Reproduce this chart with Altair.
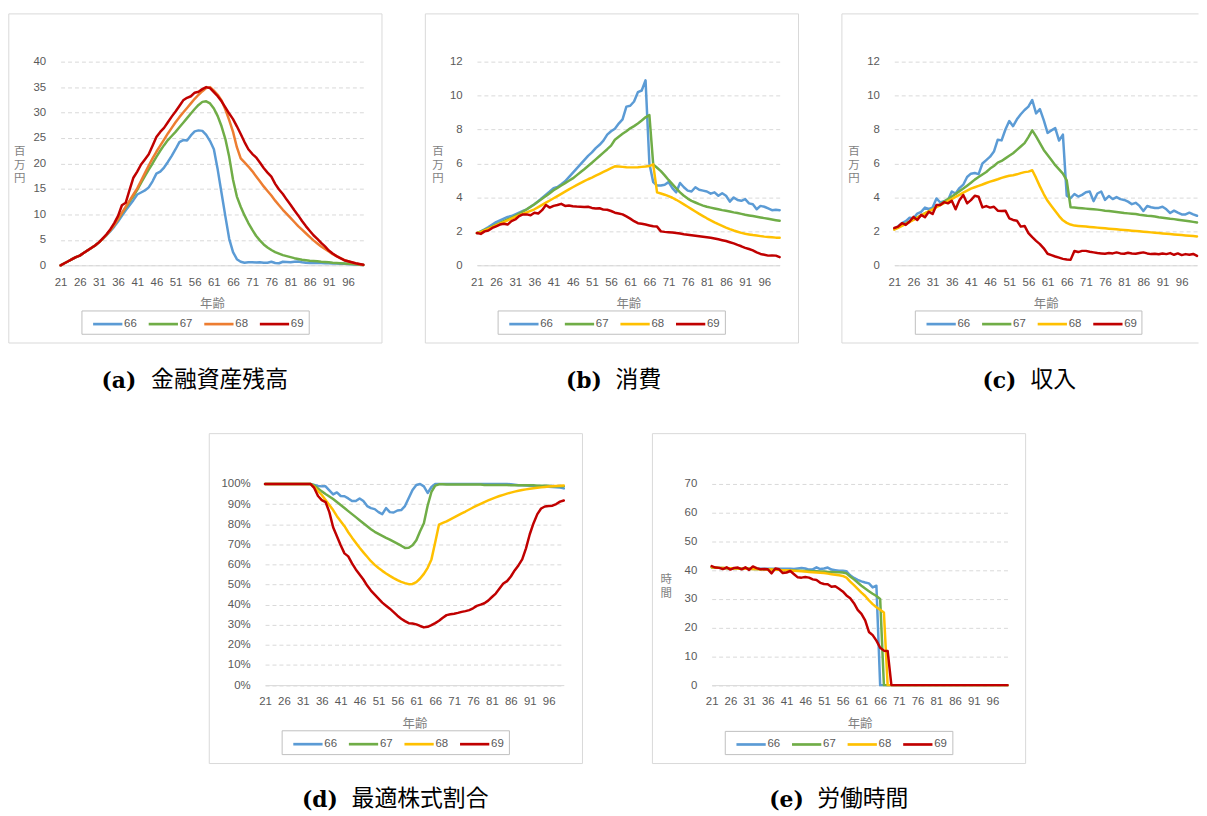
import altair as alt
import pandas as pd

AGE = list(range(21, 101))
SERIES = ["66", "67", "68", "69"]
X_TICKS = [21, 26, 31, 36, 41, 46, 51, 56, 61, 66, 71, 76, 81, 86, 91, 96]
Y_A = [0, 5, 10, 15, 20, 25, 30, 35, 40]
Y_BC = [0, 2, 4, 6, 8, 10, 12]
Y_D = [0, 10, 20, 30, 40, 50, 60, 70, 80, 90, 100]
Y_E = [0, 10, 20, 30, 40, 50, 60, 70]

# (a) financial assets (million yen)
A_66 = [0, 0.4, 0.8, 1.2, 1.6, 1.9, 2.4, 2.9, 3.4, 3.9,
        4.5, 5.2, 5.9, 6.7, 7.6, 8.6, 9.7, 10.8, 11.8, 12.8,
        13.9, 14.3, 14.7, 15.3, 16.5, 18.0, 18.4, 19.2, 20.3, 21.5,
        22.8, 24.2, 24.6, 24.5, 25.5, 26.3, 26.5, 26.4, 25.6, 24.4,
        22.8, 18.8, 14.2, 9.6, 5.2, 2.6, 1.2, 0.7, 0.5, 0.6,
        0.6, 0.55, 0.6, 0.5, 0.5, 0.7, 0.45, 0.4, 0.7, 0.65,
        0.6, 0.7, 0.75, 0.6, 0.5, 0.45, 0.5, 0.45, 0.45, 0.4,
        0.4, 0.35, 0.35, 0.3, 0.3, 0.25, 0.2, 0.15, 0.1, 0.05]
A_67 = [0, 0.4, 0.8, 1.2, 1.6, 1.9, 2.4, 2.9, 3.4, 3.9,
        4.5, 5.2, 6.0, 6.9, 7.9, 9.0, 10.2, 11.3, 12.5, 13.6,
        14.8, 16.2, 17.5, 18.8, 20.0, 21.3, 22.5, 23.6, 24.6, 25.4,
        26.2, 27.1, 28.0, 28.9, 29.8, 30.7, 31.5, 32.1, 32.2, 31.8,
        30.8, 29.3, 27.3, 24.8, 21.3, 16.8, 13.5, 11.5, 9.8, 8.3,
        7.0, 5.8, 4.9, 4.1, 3.5, 3.0, 2.6, 2.3, 2.0, 1.8,
        1.6, 1.4, 1.25, 1.1, 1.0, 0.9, 0.85, 0.8, 0.7, 0.65,
        0.6, 0.5, 0.45, 0.4, 0.35, 0.3, 0.25, 0.2, 0.1, 0.05]
A_68 = [0, 0.4, 0.8, 1.2, 1.6, 1.9, 2.4, 2.9, 3.4, 3.9,
        4.5, 5.2, 6.0, 6.9, 7.9, 9.1, 10.3, 11.5, 12.7, 13.9,
        15.1, 16.6, 18.1, 19.6, 21.0, 22.3, 23.5, 24.7, 25.9, 27.0,
        28.1, 29.1, 30.0, 30.9, 31.8, 32.7, 33.5, 34.2, 34.8, 35.0,
        34.3, 33.5, 32.4, 30.6, 28.5, 26.2, 23.2, 21.0, 20.2, 19.4,
        18.5, 17.5, 16.5, 15.5, 14.6, 13.7, 12.7, 11.8, 10.9, 10.1,
        9.3, 8.5, 7.7, 7.0, 6.3, 5.6, 4.9, 4.3, 3.7, 3.2,
        2.7, 2.2, 1.8, 1.4, 1.05, 0.8, 0.55, 0.35, 0.2, 0.05]
A_69 = [0, 0.4, 0.8, 1.2, 1.6, 1.9, 2.4, 2.9, 3.4, 3.9,
        4.5, 5.3, 6.1, 7.1, 8.3, 9.7, 11.8, 12.3, 14.8, 17.2,
        18.4, 19.8, 20.8, 21.8, 23.5, 25.2, 26.2, 27.0, 28.1, 29.2,
        30.2, 31.3, 32.4, 32.9, 33.2, 33.9, 34.1, 34.6, 35.0, 34.8,
        34.0, 33.2, 32.2, 31.0, 29.8, 28.7, 27.3, 25.8, 24.2, 22.8,
        21.9, 21.2, 20.2, 19.1, 18.2, 17.4, 16.0, 14.9, 14.0, 12.9,
        11.9, 10.8, 9.8, 8.7, 7.7, 6.8, 5.9, 5.2, 4.4, 3.7,
        2.9, 2.3, 1.8, 1.4, 1.0, 0.8, 0.6, 0.4, 0.25, 0.1]

# (b) consumption (million yen)
B_66 = [1.9, 2.0, 2.12, 2.25, 2.4, 2.55, 2.65, 2.75, 2.85, 2.9,
        3.0, 3.1, 3.2, 3.3, 3.45, 3.6, 3.78, 3.97, 4.16, 4.35,
        4.55, 4.62, 4.78, 4.95, 5.2, 5.45, 5.7, 5.95, 6.2, 6.45,
        6.65, 6.9, 7.1, 7.35, 7.7, 7.9, 8.05, 8.35, 8.6, 9.35,
        9.4, 9.65, 10.2, 10.3, 10.9, 6.0, 4.9, 4.7, 4.7, 4.75,
        4.9, 4.55, 4.3, 4.85, 4.6, 4.4, 4.35, 4.6, 4.45, 4.4,
        4.35, 4.22, 4.3, 4.1, 4.25, 4.1, 3.75, 4.0, 3.85, 3.8,
        3.9, 3.65, 3.6, 3.3, 3.5, 3.45, 3.35, 3.25, 3.27, 3.25]
B_67 = [1.9, 1.98, 2.08, 2.18, 2.28, 2.4, 2.5, 2.6, 2.7, 2.8,
        2.92, 3.04, 3.17, 3.3, 3.45, 3.6, 3.76, 3.92, 4.08, 4.25,
        4.42, 4.56, 4.7, 4.84, 4.98, 5.12, 5.3, 5.48, 5.66, 5.85,
        6.04, 6.24, 6.44, 6.64, 6.84, 7.05, 7.4, 7.58, 7.75, 7.9,
        8.07, 8.2, 8.35, 8.53, 8.72, 8.85, 5.95, 5.75, 5.55, 5.3,
        5.03, 4.78, 4.53, 4.3, 4.1, 3.93, 3.8, 3.7, 3.6, 3.52,
        3.45, 3.4, 3.35, 3.3, 3.25, 3.21, 3.17, 3.12, 3.08, 3.03,
        2.98, 2.94, 2.9, 2.86, 2.82, 2.78, 2.74, 2.7, 2.66, 2.62]
B_68 = [1.9, 1.95, 2.05, 2.15, 2.25, 2.35, 2.45, 2.55, 2.65, 2.75,
        2.85, 2.94, 3.03, 3.12, 3.21, 3.3, 3.43, 3.56, 3.69, 3.82,
        3.95, 4.08, 4.21, 4.34, 4.47, 4.6, 4.72, 4.84, 4.96, 5.07,
        5.17, 5.28, 5.39, 5.5, 5.61, 5.72, 5.83, 5.82, 5.8, 5.78,
        5.77, 5.77, 5.78, 5.8, 5.82, 5.85, 5.95, 4.3, 4.23, 4.16,
        4.08, 3.98, 3.86, 3.73, 3.59, 3.45, 3.31, 3.17, 3.03, 2.9,
        2.77, 2.65, 2.53, 2.42, 2.32, 2.22, 2.13, 2.05, 1.98, 1.91,
        1.86, 1.82, 1.78, 1.75, 1.72, 1.69, 1.67, 1.65, 1.63, 1.62]
B_69 = [1.9, 1.85, 2.0, 2.05, 2.2, 2.3, 2.4, 2.45, 2.4, 2.6,
        2.7, 2.9, 3.0, 3.0, 2.95, 3.1, 3.05, 3.25, 3.55, 3.4,
        3.5, 3.55, 3.62, 3.5, 3.52, 3.48, 3.46, 3.45, 3.43, 3.45,
        3.38, 3.35, 3.36, 3.28, 3.27, 3.2, 3.1, 3.05, 3.0, 2.88,
        2.75, 2.6, 2.48, 2.45, 2.4, 2.35, 2.3, 2.28, 2.0, 1.97,
        1.95, 1.93, 1.9, 1.87, 1.83, 1.8, 1.77, 1.74, 1.71, 1.68,
        1.65, 1.62, 1.58, 1.53, 1.48, 1.43, 1.36, 1.29, 1.2, 1.12,
        1.03, 0.96, 0.88, 0.76, 0.67, 0.62, 0.57, 0.58, 0.57, 0.48]

# (c) income (million yen)
C_66 = [2.13, 2.3, 2.48, 2.6, 2.8, 2.77, 3.05, 3.15, 3.4, 3.32,
        3.4, 3.94, 3.7, 3.78, 3.84, 4.35, 4.23, 4.55, 4.75, 5.2,
        5.4, 5.44, 5.37, 6.0, 6.2, 6.4, 6.7, 7.4, 7.36, 8.0,
        8.5, 8.2, 8.6, 8.9, 9.15, 9.35, 9.74, 8.95, 9.2, 8.55,
        7.8, 7.95, 8.08, 7.35, 7.7, 4.1, 3.95, 4.2, 4.05, 4.15,
        4.3, 4.35, 3.78, 4.23, 4.35, 3.85, 4.08, 3.9, 4.02, 3.9,
        3.85, 3.75, 3.6, 3.68, 3.5, 3.2, 3.5, 3.42, 3.38, 3.38,
        3.45, 3.3, 3.08, 3.22, 3.1, 3.0, 3.0, 3.1, 3.0, 2.92]
C_67 = [2.15, 2.25, 2.36, 2.47, 2.58, 2.7, 2.82, 2.94, 3.06, 3.18,
        3.3, 3.45, 3.6, 3.75, 3.9, 4.05, 4.2, 4.36, 4.52, 4.69,
        4.86, 5.05, 5.2, 5.35, 5.5, 5.7, 5.85, 6.05, 6.15, 6.3,
        6.45, 6.6, 6.8, 7.0, 7.2, 7.55, 7.95, 7.6, 7.2, 6.8,
        6.5, 6.2, 5.9, 5.65, 5.4, 5.0, 3.42, 3.4, 3.38, 3.36,
        3.34, 3.32, 3.3, 3.28, 3.25, 3.22, 3.2, 3.17, 3.14, 3.11,
        3.08, 3.06, 3.04, 3.02, 2.98, 2.95, 2.92, 2.9, 2.87, 2.83,
        2.8, 2.77, 2.74, 2.72, 2.69, 2.66, 2.63, 2.6, 2.56, 2.52]
C_68 = [2.1, 2.2, 2.32, 2.44, 2.55, 2.67, 2.8, 2.93, 3.06, 3.18,
        3.3, 3.42, 3.54, 3.66, 3.78, 3.9, 4.03, 4.15, 4.28, 4.4,
        4.52, 4.6, 4.68, 4.76, 4.85, 4.93, 5.0, 5.07, 5.15, 5.22,
        5.28, 5.31, 5.36, 5.43, 5.49, 5.52, 5.6, 5.15, 4.65, 4.2,
        3.8, 3.5, 3.2, 2.9, 2.65, 2.5, 2.4, 2.34, 2.32, 2.3,
        2.28, 2.26, 2.24, 2.22, 2.2, 2.18, 2.16, 2.14, 2.12, 2.1,
        2.08, 2.06, 2.04, 2.02, 2.0, 1.98, 1.96, 1.94, 1.92, 1.9,
        1.88, 1.86, 1.84, 1.82, 1.8, 1.78, 1.76, 1.74, 1.72, 1.7]
C_69 = [2.2, 2.28, 2.48, 2.38, 2.58, 2.85, 2.67, 2.97, 2.83, 3.15,
        3.02, 3.55, 3.55, 3.72, 3.65, 3.8, 3.3, 3.84, 4.14, 3.65,
        3.84, 4.1, 4.04, 3.41, 3.49, 3.4, 3.45, 3.22, 3.2, 3.22,
        2.77, 2.67, 2.63, 2.28, 2.32, 1.9, 1.66, 1.44, 1.25, 1.0,
        0.68, 0.6, 0.52, 0.45, 0.38, 0.34, 0.32, 0.84, 0.78, 0.85,
        0.85, 0.8, 0.76, 0.72, 0.7, 0.68, 0.72, 0.7, 0.76, 0.7,
        0.68, 0.74, 0.7, 0.68, 0.72, 0.76, 0.7, 0.66, 0.68, 0.65,
        0.7, 0.66, 0.72, 0.62, 0.7, 0.6, 0.66, 0.62, 0.67, 0.55]

# (d) optimal equity share (%)
D_66 = [100, 100, 100, 100, 100, 100, 100, 100, 100, 100,
        100, 100, 100, 99.5, 99, 98.8, 98.8, 96.8, 94.8, 95.8,
        94, 93.9, 92.8, 91.5, 91.5, 92.8, 91.5, 89, 88, 87.5,
        86, 85, 88, 86, 85.8, 86.8, 87, 89, 93, 97,
        99.5, 100, 98.8, 95.5, 98.5, 100, 100, 100, 100, 100,
        100, 100, 100, 100, 100, 100, 100, 100, 100, 100,
        100, 100, 100, 100, 100, 99.8, 99.6, 99.4, 99.3, 99.2,
        99.1, 99, 98.9, 98.8, 98.7, 98.6, 98.5, 98.4, 98.2, 97.8]
D_67 = [100, 100, 100, 100, 100, 100, 100, 100, 100, 100,
        100, 100, 100, 99.3, 97.8, 96.3, 95, 93.8, 92.5, 91,
        89.5, 88, 86.5, 85, 83.5, 82, 80.5, 79, 77.5, 76.2,
        75.2, 74.2, 73.2, 72.3, 71.3, 70.3, 69.3, 68.2, 68.3, 69.5,
        72, 76.5, 80.5, 89.3, 96, 99.2, 99.8, 99.8, 99.7, 99.7,
        99.7, 99.7, 99.7, 99.7, 99.7, 99.7, 99.7, 99.7, 99.5, 99.5,
        99.5, 99.5, 99.5, 99.5, 99.5, 99.3, 99.3, 99.3, 99.3, 99.3,
        99.3, 99.3, 99.1, 99.1, 99.1, 99.1, 98.9, 98.9, 98.9, 98.9]
D_68 = [100, 100, 100, 100, 100, 100, 100, 100, 100, 100,
        100, 100, 100, 98.5, 96.5, 94.5, 92, 89.5, 87, 84,
        81.5, 79, 76, 73.3, 70.8, 68.3, 66, 63.8, 61.6, 59.8,
        58.2, 56.8, 55.5, 54.3, 53.2, 52.2, 51.3, 50.7, 50.2, 50.3,
        51.2, 53, 55.3, 58.3, 62.5, 71, 79.8, 80.6, 81.4, 82.4,
        83.4, 84.4, 85.4, 86.3, 87.3, 88.3, 89.2, 90.1, 91, 91.8,
        92.6, 93.3, 94, 94.6, 95.2, 95.7, 96.2, 96.6, 97, 97.3,
        97.6, 97.9, 98.1, 98.3, 98.5, 98.7, 98.9, 99, 99.1, 99.2]
D_69 = [100, 100, 100, 100, 100, 100, 100, 100, 100, 100,
        100, 100, 100, 98, 94, 92, 91, 86, 78.5, 74,
        69.5, 65.5, 64, 60.5, 57.5, 55, 52.5, 49.5, 47, 45,
        43, 41, 39.5, 38, 36.3, 34.5, 33, 31.8, 30.8, 30.6,
        30.2, 29.4, 28.7, 29.0, 29.8, 30.8, 32, 33.5, 34.8, 35.2,
        35.5, 35.9, 36.4, 36.8, 37.3, 38.2, 39.4, 40, 40.7, 42,
        43.8, 45.5, 48, 50.5, 51.7, 54, 57, 59.5, 62.5, 68,
        75, 80.5, 85, 87.8, 88.8, 89, 89.2, 90, 91.2, 91.8]

# (e) working hours
E_66 = [41, 40.8, 40.8, 40.7, 40.7, 40.7, 40.6, 40.6, 40.6, 40.6,
        40.5, 40.5, 40.5, 40.5, 40.5, 40.5, 40.5, 40.5, 40.5, 40.5,
        40.5, 40.5, 40.4, 40.6, 40.8, 40.6, 40.2, 40.3, 41, 40.4,
        40.6, 40.9, 40.2, 40.0, 39.8, 39.8, 39.6, 38.2, 37.3, 36.6,
        36.1, 35.7, 35.4, 34.0, 34.6, 0, 0, 0, 0, 0,
        0, 0, 0, 0, 0, 0, 0, 0, 0, 0,
        0, 0, 0, 0, 0, 0, 0, 0, 0, 0,
        0, 0, 0, 0, 0, 0, 0, 0, 0, 0]
E_67 = [41, 40.9, 40.8, 40.8, 40.7, 40.7, 40.6, 40.6, 40.5, 40.5,
        40.5, 40.4, 40.4, 40.3, 40.3, 40.2, 40.2, 40.1, 40.1, 40.0,
        40.0, 39.9, 39.9, 39.8, 39.8, 39.7, 39.7, 39.6, 39.6, 39.5,
        39.5, 39.4, 39.4, 39.3, 39.3, 39.2, 38.9, 37.8, 36.8, 35.7,
        34.6, 33.6, 32.7, 31.8, 31.0, 30.0, 0, 0, 0, 0,
        0, 0, 0, 0, 0, 0, 0, 0, 0, 0,
        0, 0, 0, 0, 0, 0, 0, 0, 0, 0,
        0, 0, 0, 0, 0, 0, 0, 0, 0, 0]
E_68 = [41, 40.9, 40.8, 40.8, 40.7, 40.7, 40.6, 40.6, 40.5, 40.5,
        40.5, 40.4, 40.4, 40.3, 40.3, 40.2, 40.2, 40.1, 40.1, 40.0,
        40.0, 39.9, 39.8, 39.7, 39.6, 39.5, 39.4, 39.3, 39.2, 39.1,
        39.0, 38.8, 38.6, 38.4, 38.2, 38.0, 37.4, 36.0, 34.8, 33.5,
        32.2, 31.0, 29.5, 28.2, 27.1, 26.2, 25.3, 0, 0, 0,
        0, 0, 0, 0, 0, 0, 0, 0, 0, 0,
        0, 0, 0, 0, 0, 0, 0, 0, 0, 0,
        0, 0, 0, 0, 0, 0, 0, 0, 0, 0]
E_69 = [41.4, 40.9, 40.8, 40.4, 41.0, 40.2, 40.8, 40.9, 40.3, 41.0,
        40.1, 41.3, 40.7, 40.3, 40.4, 40.3, 38.9, 40.6, 40.3, 39.0,
        39.2, 39.7, 38.6, 37.5, 37.4, 37.6, 37.4, 36.8, 36.6, 35.6,
        35.2, 35.1, 34.2, 34.4, 33.5, 32.6, 31.2, 30.2, 28.5, 26.2,
        24.8, 22.5, 18.5, 17.4, 15.5, 13.0, 12.0, 11.9, 0, 0,
        0, 0, 0, 0, 0, 0, 0, 0, 0, 0,
        0, 0, 0, 0, 0, 0, 0, 0, 0, 0,
        0, 0, 0, 0, 0, 0, 0, 0, 0, 0]

COLORS_A = ["#5B9BD5", "#70AD47", "#ED7D31", "#C00000"]
COLORS = ["#5B9BD5", "#70AD47", "#FFC000", "#C00000"]

LFONT = "Liberation Sans, Noto Sans CJK JP"
CFONT = "Noto Sans CJK JP"
LABEL = "#595959"
TCOLOR = "#7f7f7f"
GRID = "#d9d9d9"
BORDER = "#d9d9d9"
LBORDER = "#bfbfbf"

ONE = pd.DataFrame({"k": [0]})


def panel(vals, colors, yvals, ymax, ylabel_expr, ytitle, ytitle_x, plot, box, lbox,
          tag, caption, tag_x, cap_x, cap_y, open_right=False):
    px, py, w, h = plot
    for arr in vals:
        assert len(arr) == len(AGE), len(arr)
    rows = []
    for s, arr in zip(SERIES, vals):
        for a, v in zip(AGE, arr):
            rows.append({"age": a, "series": s, "value": v})
    df = pd.DataFrame(rows)

    ykw = dict(values=yvals, grid=True, gridDash=[4, 3], gridColor=GRID, gridWidth=1,
               domain=False, ticks=False, labelPadding=15, labelFont=LFONT, labelFontSize=11.5,
               labelColor=LABEL)
    if ylabel_expr:
        ykw["labelExpr"] = ylabel_expr
    if ytitle:
        corr = -12.4 if len(ytitle) == 3 else -5.4
        ykw.update(title=ytitle, titleAngle=0, titleX=ytitle_x, titleY=h / 2 + corr,
                   titleAlign="center", titleBaseline="middle", titleFont=CFONT,
                   titleFontSize=11.5, titleColor=TCOLOR, titleFontWeight="normal",
                   titleLineHeight=14)
    else:
        ykw["title"] = ""

    lx0, ly0, lx1, ly1 = lbox
    leg = alt.Legend(title=None, orient="none", legendX=lx0 - px + 9.5,
                     legendY=(ly0 + ly1) / 2 - py - 15, direction="horizontal",
                     symbolType="stroke", symbolSize=870, symbolStrokeWidth=2.7,
                     labelFont=LFONT, labelFontSize=11.5, labelColor=LABEL, labelOffset=0,
                     columnPadding=6, padding=0)

    lines = alt.Chart(df).mark_line(strokeWidth=2.5, strokeJoin="round", strokeCap="round").encode(
        x=alt.X("age:Q", scale=alt.Scale(domain=[21, 100], nice=False, zero=False),
                axis=alt.Axis(values=X_TICKS, title="年齢", grid=False, ticks=False, domainColor=GRID,
                              domainWidth=1, labelPadding=11, labelFont=LFONT, labelFontSize=11.5,
                              labelColor=LABEL, labelFlush=False, labelOverlap=False,
                              titleFont=CFONT, titleFontSize=12.5, titleColor=TCOLOR,
                              titleFontWeight="normal", titlePadding=10)),
        y=alt.Y("value:Q", scale=alt.Scale(domain=[0, ymax], nice=False, zero=True),
                axis=alt.Axis(**ykw)),
        color=alt.Color("series:N", scale=alt.Scale(domain=SERIES, range=colors), legend=leg),
    )

    bl, bt, br, bb = box[0] - px, box[1] - py, box[2] - px, box[3] - py
    if open_right:
        border = alt.layer(
            alt.Chart(ONE).mark_rule(color=BORDER, strokeWidth=1).encode(
                x=alt.value(bl), x2=alt.value(br), y=alt.value(bt)),
            alt.Chart(ONE).mark_rule(color=BORDER, strokeWidth=1).encode(
                x=alt.value(bl), x2=alt.value(br), y=alt.value(bb)),
            alt.Chart(ONE).mark_rule(color=BORDER, strokeWidth=1).encode(
                x=alt.value(bl), y=alt.value(bt), y2=alt.value(bb)),
        )
    else:
        border = alt.Chart(ONE).mark_rect(fillOpacity=0, stroke=BORDER, strokeWidth=1).encode(
            x=alt.value(bl), x2=alt.value(br), y=alt.value(bt), y2=alt.value(bb))

    legbox = alt.Chart(ONE).mark_rect(fillOpacity=0, stroke=LBORDER, strokeWidth=1).encode(
        x=alt.value(lx0 - px), x2=alt.value(lx1 - px), y=alt.value(ly0 - py), y2=alt.value(ly1 - py))

    tag_mark = alt.Chart(ONE).mark_text(
        text=tag, font="DejaVu Serif", fontWeight="bold", fontSize=22, align="left",
        baseline="alphabetic", color="#000000").encode(x=alt.value(tag_x), y=alt.value(cap_y + 1))
    cap_mark = alt.Chart(ONE).mark_text(
        text=caption, font=CFONT, fontSize=23, align="left", baseline="alphabetic",
        color="#000000").encode(x=alt.value(cap_x), y=alt.value(cap_y))

    return alt.layer(border, legbox, tag_mark, cap_mark, lines).properties(width=w, height=h)


TOP_Y, TOP_H = 58.8, 205.2
BOT_Y, BOT_H = 484.0, 202.7

pa = panel([A_66, A_67, A_68, A_69], COLORS_A, Y_A, 40, None, ["百", "万", "円"], -41.8,
           (60.5, TOP_Y, 305, TOP_H), (8.3, 10.7, 384.3, 342.3), (82, 310, 311, 333.5),
           "(a)", "金融資産残高", 41.2, 91.2, 327.5)
pb = panel([B_66, B_67, B_68, B_69], COLORS, Y_BC, 12, None, ["百", "万", "円"], -39.7,
           (477, TOP_Y, 305, TOP_H), (425, 10.7, 801, 342.3), (498.3, 310, 727.3, 333.5),
           "(b)", "消費", 89.7, 139.7, 327.5)
pc = panel([C_66, C_67, C_68, C_69], COLORS, Y_BC, 12, None, ["百", "万", "円"], -41.2,
           (894.5, TOP_Y, 305, TOP_H), (841.7, 10.7, 1201, 342.3), (915.7, 310, 1144, 333.5),
           "(c)", "収入", 88.8, 137.2, 327.5, open_right=True)
pdd = panel([D_66, D_67, D_68, D_69], COLORS, Y_D, 100, "datum.value + '%'", None, 0,
            (264.5, BOT_Y, 301, BOT_H), (208.3, 433.3, 584.3, 765.7), (281.7, 732.7, 510.7, 756.7),
            "(d)", "最適株式割合", 37.2, 87.2, 324)
pe = panel([E_66, E_67, E_68, E_69], COLORS, Y_E, 70, None, ["時", "間"], -46.3,
           (712, BOT_Y, 298, BOT_H), (652.3, 433.3, 1028.3, 765.7), (725.7, 733.3, 955, 756.7),
           "(e)", "労働時間", 58, 106.3, 324)

spacer = alt.Chart(ONE).mark_rule(strokeOpacity=0).encode(
    x=alt.value(0), x2=alt.value(81), y=alt.value(0)).properties(width=81, height=10)

top = alt.hconcat(pa, pb, pc, spacing=41.5).resolve_scale(color="independent").resolve_legend(
    color="independent")
bottom = alt.hconcat(spacer, pdd, pe, spacing=68).resolve_scale(color="independent").resolve_legend(
    color="independent")

chart = alt.vconcat(top, bottom, spacing=40.5).resolve_scale(color="independent").resolve_legend(
    color="independent").properties(
    padding={"left": 0, "top": 2, "right": 0, "bottom": 0},
    background="white",
).configure_view(strokeWidth=0)

chart.save("out.html", embed_options={"renderer": "svg", "actions": False})
